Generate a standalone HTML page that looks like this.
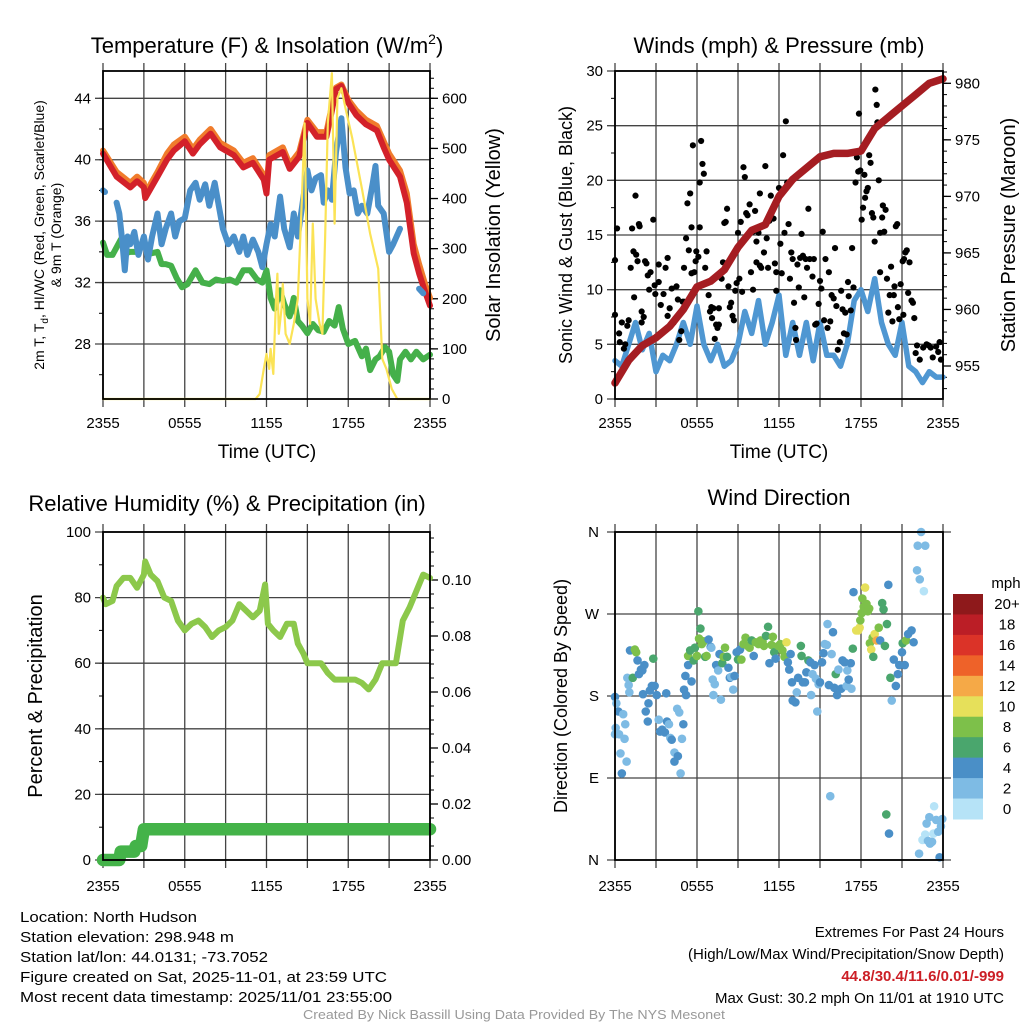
<!DOCTYPE html>
<html><head><meta charset="utf-8"><style>
html,body{margin:0;padding:0;background:#fff}
svg{display:block;font-family:"Liberation Sans",sans-serif}
</style></head><body>
<svg id="root" width="1024" height="1024" viewBox="0 0 1024 1024" xmlns="http://www.w3.org/2000/svg">
<rect x="0" y="0" width="1024" height="1024" fill="#fff"/>
<text x="267" y="53" font-size="22" text-anchor="middle">Temperature (F) &amp; Insolation (W/m<tspan dy="-9" font-size="14">2</tspan><tspan dy="9">)</tspan></text>
<text x="779" y="53" font-size="22" text-anchor="middle">Winds (mph) &amp; Pressure (mb)</text>
<text x="227" y="511" font-size="22" text-anchor="middle">Relative Humidity (%) &amp; Precipitation (in)</text>
<text x="779" y="505" font-size="22" text-anchor="middle">Wind Direction</text>
<text x="267" y="458" font-size="19" text-anchor="middle">Time (UTC)</text>
<text x="779" y="458" font-size="19" text-anchor="middle">Time (UTC)</text>
<text transform="translate(44,235) rotate(-90)" font-size="14" text-anchor="middle">2m T, T<tspan dy="4" font-size="10">d</tspan><tspan dy="-4">, HI/WC (Red, Green, Scarlet/Blue)</tspan></text>
<text transform="translate(61,235) rotate(-90)" font-size="14" text-anchor="middle">&amp; 9m T (Orange)</text>
<text transform="translate(500,235) rotate(-90)" font-size="20" text-anchor="middle">Solar Insolation (Yellow)</text>
<text transform="translate(572,235) rotate(-90)" font-size="18" text-anchor="middle">Sonic Wind &amp; Gust (Blue, Black)</text>
<text transform="translate(1015,235) rotate(-90)" font-size="20" text-anchor="middle">Station Pressure (Maroon)</text>
<text transform="translate(42,696) rotate(-90)" font-size="20" text-anchor="middle">Percent &amp; Precipitation</text>
<text transform="translate(567,696) rotate(-90)" font-size="18" text-anchor="middle">Direction (Colored By Speed)</text>
<g font-size="15">
<text x="20" y="922" textLength="177" lengthAdjust="spacingAndGlyphs">Location: North Hudson</text>
<text x="20" y="942" textLength="214" lengthAdjust="spacingAndGlyphs">Station elevation: 298.948 m</text>
<text x="20" y="962" textLength="248" lengthAdjust="spacingAndGlyphs">Station lat/lon: 44.0131; -73.7052</text>
<text x="20" y="982" textLength="367" lengthAdjust="spacingAndGlyphs">Figure created on Sat, 2025-11-01, at 23:59 UTC</text>
<text x="20" y="1002" textLength="372" lengthAdjust="spacingAndGlyphs">Most recent data timestamp: 2025/11/01 23:55:00</text>
</g>
<g font-size="15" text-anchor="end">
<text x="1004" y="937">Extremes For Past 24 Hours</text>
<text x="1004" y="959">(High/Low/Max Wind/Precipitation/Snow Depth)</text>
<text x="1004" y="981" fill="#cc1f26" font-weight="bold">44.8/30.4/11.6/0.01/-999</text>
<text x="1004" y="1003">Max Gust: 30.2 mph On 11/01 at 1910 UTC</text>
</g>
<text x="514" y="1019" font-size="12.5" fill="#999" text-anchor="middle" textLength="422" lengthAdjust="spacingAndGlyphs">Created By Nick Bassill Using Data Provided By The NYS Mesonet</text>
</svg>
<script>
// ---------- data ----------
const timeTickLabels = ["2355","0555","1155","1755","2355"];
const redT = [0,1,2,2.5,3,3.1,4,4.7,5.2,6,6.6,7.1,7.9,8.6,9.6,10.3,11,11.8,12,12.2,13.2,13.7,14.4,15,15.7,16.4,16.8,17.1,17.5,18,18.6,19.3,20.1,20.6,21,21.8,22.3,22.8,23.2,23.6,24];
const redV = [40.4,38.9,38.2,38.6,38.2,37.5,38.9,40,40.6,41.2,40.4,41,41.7,40.8,40.3,39.5,39.8,38.7,37.8,40,40.5,39.4,40.2,42.4,41.5,41.5,43.2,44.6,44.8,43.7,42.9,42.3,41.9,40.8,40,38.9,37.2,33.9,32.6,31.5,30.5];
const orangeV = [40.6,39.2,38.5,38.9,38.5,37.8,39.2,40.4,41,41.5,40.7,41.3,42,41.1,40.6,39.8,40.1,39,38.1,40.3,40.8,39.7,40.5,42.6,41.8,41.8,43.5,44.7,44.9,43.9,43.2,42.6,42.2,41.2,40.4,39.3,37.8,34.5,33.2,32,31];
const blueT = [0,0.15,0.5,1,1.2,1.4,1.6,1.8,2,2.3,2.6,3,3.3,3.6,4,4.3,4.6,5,5.3,5.6,6,6.4,6.8,7.1,7.5,7.8,8.2,8.5,8.8,9.2,9.6,10,10.3,10.6,11,11.4,11.7,12,12.3,12.6,13,13.3,13.7,14,14.3,14.7,15,15.3,15.6,16,16.2,16.5,16.8,17.1,17.5,17.8,18.1,18.4,18.7,19,19.4,19.8,20,20.2,20.6,21,21.3,21.8,22.5,23.2,23.5];
const blueV = [38,37.9,null,37.2,36.5,34.8,32.8,35,34.5,35.3,33.8,35,33.5,35,36.5,34.5,35.5,36.5,35,36,36.2,38,38.5,37.4,38.4,37,38.5,37,35.5,34.5,35,34,35,33.8,34.8,34,33,34.5,35.8,35,37.6,35.5,34.3,36.5,35,37.5,39.3,38,38.8,39,37.2,38,37.4,40.5,42.7,39.5,37.8,38,36.5,37,36.5,38.5,39.6,37,36.5,34,34.5,35.5,null,31.6,31.3];
const greenT = [0,0.3,0.7,1,1.3,1.6,2,2.5,3,3.5,4,4.3,4.6,5,5.4,5.8,6.2,6.8,7.3,7.8,8.3,8.8,9.3,9.8,10.3,10.8,11.3,11.7,12,12.3,12.6,13,13.3,13.7,14,14.3,14.6,15,15.4,15.8,16.2,16.6,17,17.3,17.6,18,18.5,19,19.3,19.6,20,20.3,20.7,21,21.3,21.6,21.8,22.2,22.6,23,23.5,24];
const greenV = [34.6,33.8,33.8,34.3,34.8,33.9,34,34,34.6,33.9,34,33.2,33.2,33.1,32.3,31.7,31.9,32.8,32,31.9,32.2,32.1,32.2,32,32.8,32.8,32.2,32,32.8,31,30.3,31.5,30.6,29.8,31,29.5,29.2,28.7,29.3,28.9,28.8,29.5,29.2,30.4,29,28,28.2,27.2,27.7,26.3,27,27.2,27.8,27.5,26,25.6,27,27.5,27,27.5,27,27.3];
const solarT = [0,11.2,11.5,11.8,12,12.2,12.3,12.5,12.7,12.8,12.9,13.1,13.2,13.4,13.7,14,14.3,14.6,14.8,15,15.2,15.4,15.6,15.9,16.1,16.3,16.5,16.8,17,17.2,17.5,17.8,18.3,19,19.6,20.2,20.5,20.8,21.2,21.6,24];
const solarV = [0,0,10,60,90,60,100,50,200,250,130,180,230,130,110,150,200,400,550,200,150,350,200,150,130,320,550,650,350,600,620,580,520,420,330,260,80,60,20,0,0];
const pressT = [0,1,2,3,4,5,6,7,8,9,10,11,12,13,14,15,16,17,18,18.5,19,20,21,22,23,24];
const pressV = [953.5,955.5,956.8,957.5,958.5,960,962,962.5,963.5,965.5,967,967.5,970,971.5,972.5,973.5,973.8,973.8,974,975,976,977,978,979,980,980.4];
const windT = [0,0.5,1,1.5,2,2.5,3,3.5,4,4.5,5,5.5,6,6.5,7,7.5,8,8.5,9,9.5,10,10.5,11,11.5,12,12.5,13,13.5,14,14.5,15,15.5,16,16.5,17,17.5,18,18.5,19,19.5,20,20.5,21,21.5,22,22.5,23,23.5,24];
const windV = [3.5,3,5,7,4.5,6,2.5,4,3.5,5,7,5,8.5,5,3.5,5,3,3.5,5,8,6,9,5,7,9.5,4,7,4,7,3.5,7,4,4,3,5,9,10,8,11,7,5,4,7,3,2.5,1.5,2.5,2,2];
const gustT = [0,0,0.15,0.3,0.35,0.5,0.65,0.75,0.9,1.0,1.15,1.25,1.35,1.4,1.5,1.55,1.65,1.75,1.8,1.95,1.95,2.1,2.2,2.3,2.4,2.5,2.6,2.8,2.9,2.95,3.2,3.2,3.35,3.55,3.7,3.85,3.85,4.0,4.15,4.3,4.5,4.6,4.7,4.85,4.95,5.05,5.05,5.2,5.3,5.4,5.5,5.6,5.6,5.7,5.8,5.9,5.95,6.1,6.2,6.2,6.3,6.4,6.5,6.6,6.7,6.85,6.95,7.05,7.1,7.2,7.3,7.4,7.5,7.6,7.6,7.8,7.9,8.0,8.1,8.2,8.3,8.4,8.5,8.6,8.7,8.8,8.9,9.0,9.1,9.2,9.3,9.4,9.5,9.6,9.7,9.85,9.95,10.1,10.1,10.25,10.35,10.35,10.5,10.6,10.6,10.7,10.9,11.0,11.1,11.2,11.3,11.4,11.5,11.6,11.7,11.8,11.8,12.0,12.1,12.2,12.3,12.4,12.5,12.6,12.7,12.8,12.9,13.0,13.1,13.2,13.25,13.35,13.45,13.55,13.65,13.75,13.85,13.95,14.05,14.15,14.25,14.45,14.55,14.65,14.75,14.9,15.0,15.1,15.2,15.3,15.4,15.55,15.65,15.75,15.85,16.0,16.1,16.2,16.3,16.45,16.55,16.65,16.75,16.85,16.95,17.05,17.1,17.25,17.35,17.45,17.6,17.7,17.8,17.85,17.95,18.05,18.15,18.25,18.3,18.4,18.5,18.6,18.7,18.8,18.9,19.0,19.05,19.15,19.2,19.3,19.4,19.4,19.55,19.6,19.7,19.8,19.9,20.0,20.1,20.2,20.3,20.4,20.45,20.55,20.65,20.7,20.8,20.9,21.05,21.1,21.15,21.25,21.35,21.45,21.55,21.7,21.8,21.9,22.0,22.1,22.3,22.55,22.8,22.95,23.1,23.25,23.5,23.65,23.75,23.85];
const gustV = [12.7,7.7,15.6,6,5.2,7,4.6,5,6.7,7.2,12,15.6,13.5,9.3,18.6,13.2,12.6,16,15.8,7,8,7.5,12.6,12.4,11.3,10,11.6,16.4,10.4,9.6,10.7,12.3,8.6,9.6,12,12.9,7.6,8.3,10.1,7,10.3,9.1,5.4,6.2,8.9,12,8.9,14.7,17.9,13.6,18.8,15.7,11.5,23.2,11.6,12.6,13.5,13,19.8,15.7,23.6,21.5,20.6,12,13.5,9.5,8,8.4,7.4,8.3,5.5,6.8,6.5,8.3,6.8,11,12.5,16.1,16.2,17.4,10.3,8.4,8.8,7.6,7.2,9.9,10.6,15.2,11,16.2,9.8,21.2,20.3,17,16.8,17.8,11.6,15.3,10,17.2,14.4,12.5,15.2,18.8,12.2,12,13.4,21.3,14.7,12,16.3,18.6,17.2,16.5,12.4,9.9,11.6,19.3,14.2,11.5,22.3,15.2,25.4,19.8,16,11,13.4,12.8,8.8,6.5,5.4,12.3,10.2,12.9,15.1,13.1,9.3,12.8,12,17.4,12.8,11.2,12.8,6.8,6.9,8.7,10.8,10.1,15.3,7.2,12.8,6.5,11.6,7.1,9.5,9.2,13.8,8.5,4.5,5.2,9.9,8.2,6,7.9,5.9,10.7,9.4,8.1,13.8,10.2,19.8,22.1,20.8,26.1,20.9,16.4,17.5,20.5,18.4,19,19.3,22.3,21.6,17,16.6,14.4,28.3,26.9,25.3,20,15.2,11.6,16.6,17.7,15.3,17.3,11,7.9,9.5,12.1,7.1,9.5,10.3,15.8,16,8.4,7.3,10.5,12.6,7.7,12.8,13.4,13.6,9.7,12.5,9,8.8,7.4,4.2,4.9,3.6,4.7,5,4.9,4.7,3.8,4.8,4.3,5.2,3.6];
const rhT = [0,0.2,0.7,1,1.5,2,2.5,3,3.1,3.5,4,4.5,5,5.5,6,6.5,7,7.5,8,8.5,9,9.5,10,10.5,11,11.5,11.9,12.1,12.5,13,13.5,14,14.3,14.7,15,15.5,16,16.5,17,17.5,18,18.5,19,19.5,20,20.5,21,21.5,22,22.5,23,23.5,24];
const rhV = [80,78,79,83.5,86,86,83,87,91,87,85,80,79,73,70,72,73,71,68,70,71,73,78,76,74,76,84,72,70,68,72,72,66,63,60,60,60,57,55,55,55,55,54,52,55,60,60,60,73,77,82,87,86];
const precipT = [0,1.2,1.3,2.3,2.4,2.8,2.9,3,24];
const precipV = [0,0,0.003,0.003,0.005,0.005,0.008,0.011,0.011];
const dirT = [0,0.1,0.25,0.05,0,0.3,0.6,0.75,0.7,0.4,0.85,0.5,0.9,1.0,1.05,1.1,1.3,1.45,1.55,1.65,1.75,1.9,2.0,2.15,2.05,2.25,2.4,2.45,2.55,2.7,2.8,2.9,3.05,3.2,3.3,3.45,3.65,3.75,3.8,3.95,4.05,4.15,4.35,4.35,4.55,4.7,4.6,4.8,4.9,5.0,5.05,5.15,5.2,5.35,5.35,5.5,5.6,5.75,5.85,6.0,6.1,6.25,6.15,6.35,6.5,6.6,6.7,6.85,7.0,7.05,7.15,7.2,7.3,7.4,7.55,7.65,7.75,7.85,7.95,8.05,8.2,8.3,8.4,8.5,8.65,8.75,8.9,9.0,9.15,9.25,9.4,9.55,9.7,9.85,10.0,10.15,10.3,10.5,10.65,10.8,10.9,11.05,11.2,11.3,11.45,11.55,11.65,11.75,11.95,12.1,12.25,12.4,12.55,12.65,12.75,12.85,12.95,13.0,13.2,13.3,13.4,13.6,13.65,13.75,13.9,14.0,14.15,14.3,14.35,14.45,14.6,14.7,14.8,14.9,15.0,15.15,15.25,15.35,15.5,15.55,15.65,15.75,15.85,15.95,16.05,16.15,16.25,16.35,16.55,16.65,16.8,16.95,17.0,17.1,17.25,17.3,17.4,17.45,17.65,17.8,17.9,17.95,18.05,18.1,18.2,18.3,18.4,18.5,18.6,18.65,18.75,18.85,18.9,19.0,19.15,19.3,19.4,19.55,19.65,19.75,19.85,19.9,20.0,20.05,20.15,20.25,20.4,20.55,20.7,20.8,21.0,21.05,21.2,21.3,21.45,21.7,21.85,22.1,22.15,22.25,22.3,22.4,22.5,22.6,22.7,22.7,22.8,22.9,23.0,23.05,23.2,23.35,23.3,23.5,23.65,23.75,23.85,23.95];
const dirV = [179,172,163,145,138,138,160,149,133,117,108,95,200,192,184,230,200,231,228,219,204,209,208,214,182,163,152,172,186,191,221,191,181,154,141,143,140,183,152,149,134,132,118,108,166,162,114,95,133,149,187,202,181,214,224,230,196,219,233,224,273,254,243,237,240,223,224,242,234,233,198,181,193,214,208,226,176,216,223,233,223,211,200,201,187,202,228,220,231,220,237,244,235,233,241,224,239,237,241,240,235,246,256,216,236,245,228,221,235,237,230,223,239,217,209,226,195,175,173,184,200,235,224,195,195,206,219,217,181,204,214,199,163,193,195,217,227,237,236,259,192,70,226,250,189,204,181,209,188,219,217,191,208,198,216,188,232,294,252,252,255,263,271,287,278,299,281,273,276,238,231,244,223,248,241,255,241,282,275,235,50,259,302,29,200,175,220,191,204,214,228,238,214,241,248,252,239,318,345,7,308,360,22,295,345,28,40,21,47,18,20,59,29,44,31,3,37,45];
const dirSpeed = [5,3,5,3,3,3,3,3,3,3,3,5,3,3,3,5,7,9,9,5,5,5,5,5,5,5,5,5,5,5,7,5,5,3,5,5,5,5,5,3,3,5,3,5,3,3,5,3,3,5,5,5,5,5,9,7,5,7,7,9,7,7,9,9,9,7,9,5,5,3,3,3,3,5,3,5,3,7,9,9,7,5,5,3,3,5,5,7,5,9,9,9,9,9,7,5,9,9,9,9,9,7,7,5,9,9,7,5,9,9,9,9,11,5,5,5,5,5,5,3,5,7,7,5,5,5,7,5,3,3,5,3,3,3,5,5,5,3,3,3,5,3,3,5,5,7,5,3,5,5,5,3,3,5,5,3,7,5,11,11,11,9,9,9,9,11,9,9,9,9,11,9,7,11,13,9,5,7,7,7,7,7,5,5,7,3,5,5,5,5,5,7,5,9,5,5,5,3,3,3,3,3,1,1,3,1,3,3,3,3,3,1,1,3,3,5,3,3];
const dirTickLabels = ["N","E","S","W","N"];
const speedBinLabels = ["0","2","4","6","8","10","12","14","16","18","20+"];
const speedBinColors = ["#b6e3f7","#7ebbe4","#4a8fc7","#4aa66d","#7dc04a","#e6e05a","#f5a947","#ee6229","#db3328","#bb1e26","#8e191b"];

// ---------- helpers ----------
const NS = "http://www.w3.org/2000/svg";
const root = document.getElementById("root");
function mk(tag, a, parent) {
  const e = document.createElementNS(NS, tag);
  for (const k in a) e.setAttribute(k, a[k]);
  (parent || root).appendChild(e);
  return e;
}
function panel(x0, x1, y0, y1) { return {x0, x1, y0, y1}; }
function lin(d0, d1, r0, r1) { return v => r0 + (v - d0) / (d1 - d0) * (r1 - r0); }
function pathFrom(T, V, xs, ys) {
  let d = "", pen = false;
  for (let i = 0; i < T.length; i++) {
    if (V[i] === null) { pen = false; continue; }
    d += (pen ? "L" : "M") + xs(T[i]).toFixed(1) + "," + ys(V[i]).toFixed(1);
    pen = true;
  }
  return d;
}
const gridColor = "#444";

function timeAxis(p, xs, labelY, name) {
  const g = mk("g", {});
  
  
  for (let h = 0; h <= 24; h += 3) {
    const l = mk("line", {x1: xs(h), x2: xs(h), y1: p.y0 - 8, y2: p.y1 + 8, stroke: gridColor, "stroke-width": 1.3}, g);
    
    
  }
  for (let i = 0; i < timeTickLabels.length; i++) {
    const t = mk("text", {x: xs(i * 6), y: labelY, "font-size": 15, "text-anchor": "middle"}, g);
    t.textContent = timeTickLabels[i];
    
    
  }
}
function leftAxis(p, ys, ticks, minors, fmt, name) {
  const g = mk("g", {});
  
  
  minors.forEach(v => {
    const l = mk("line", {x1: p.x0 - 4, x2: p.x0, y1: ys(v), y2: ys(v), stroke: "#000", "stroke-width": 1}, g);
    
    
  });
  ticks.forEach(v => {
    const l = mk("line", {x1: p.x0 - 8, x2: p.x1, y1: ys(v), y2: ys(v), stroke: gridColor, "stroke-width": 1.3}, g);
    
    
    const t = mk("text", {x: p.x0 - 12, y: ys(v) + 5, "font-size": 15, "text-anchor": "end"}, g);
    t.textContent = fmt(v);
    
    
  });
}
function rightAxis(p, ys, ticks, minors, fmt, name) {
  const g = mk("g", {});
  
  
  minors.forEach(v => {
    const l = mk("line", {x1: p.x1, x2: p.x1 + 4, y1: ys(v), y2: ys(v), stroke: "#000", "stroke-width": 1}, g);
    
    
  });
  ticks.forEach(v => {
    const l = mk("line", {x1: p.x1, x2: p.x1 + 8, y1: ys(v), y2: ys(v), stroke: "#000", "stroke-width": 1.3}, g);
    
    
    const t = mk("text", {x: p.x1 + 12, y: ys(v) + 5, "font-size": 15, "text-anchor": "start"}, g);
    t.textContent = fmt(v);
    
    
  });
}
function frame(p, name) {
  const r = mk("rect", {x: p.x0, y: p.y0, width: p.x1 - p.x0, height: p.y1 - p.y0, fill: "none", stroke: "#000", "stroke-width": 1.8});
  
  
}
function range(a, b, s) { const o = []; for (let v = a; v <= b + 1e-9; v += s) o.push(+v.toFixed(4)); return o; }
function line(T, V, xs, ys, color, w, name) {
  const e = mk("path", {d: pathFrom(T, V, xs, ys), fill: "none", stroke: color, "stroke-width": w, "stroke-linejoin": "round", "stroke-linecap": "round"});
  
  
  return e;
}

// ---------- panel 1: temperature ----------
const P1 = panel(103, 430, 71, 399);
const x1s = lin(0, 24, P1.x0, P1.x1);
const y1s = lin(28, 44, 344, 98.3);
const y1r = lin(0, 600, 399, 98.3);
timeAxis(P1, x1s, 428, "temperature");
leftAxis(P1, y1s, range(28, 44, 4), range(26, 44, 2), v => String(v), "temperature");
rightAxis(P1, y1r, range(0, 600, 100), range(0, 640, 20), v => String(v), "insolation");
line(redT, orangeV, x1s, y1s, "#f07c2c", 6, "9m-temperature-line");
line(redT, redV, x1s, y1s, "#d3212a", 6, "2m-temperature-line");
line(greenT, greenV, x1s, y1s, "#45b04a", 6, "dewpoint-line");
line(blueT, blueV, x1s, y1s, "#4a8fc9", 6, "wind-chill-line");
line(solarT, solarV, x1s, y1r, "#fbe356", 2.2, "solar-insolation-line");
frame(P1, "temperature");

// ---------- panel 2: winds ----------
const P2 = panel(615, 943, 71, 399);
const x2s = lin(0, 24, P2.x0, P2.x1);
const y2s = lin(0, 30, 399, 71);
const y2r = lin(955, 980, 366, 83.3);
timeAxis(P2, x2s, 428, "winds");
leftAxis(P2, y2s, range(0, 30, 5), range(0, 30, 2.5), v => String(v), "wind");
rightAxis(P2, y2r, range(955, 980, 5), range(953, 981, 1), v => String(v), "pressure");
line(windT, windV, x2s, y2s, "#4f97d2", 5.5, "sonic-wind-line");
for (let i = 0; i < gustT.length; i++) {
  const c = mk("circle", {cx: x2s(gustT[i]), cy: y2s(gustV[i]), r: 3.1, fill: "#000"});
  
  
}
line(pressT, pressV, x2s, y2r, "#a51d22", 7.5, "station-pressure-line");
frame(P2, "winds");

// ---------- panel 3: humidity ----------
const P3 = panel(103, 430, 532, 860);
const x3s = lin(0, 24, P3.x0, P3.x1);
const y3s = lin(0, 100, 860, 532);
const y3r = lin(0, 0.1, 860, 580);
timeAxis(P3, x3s, 891, "humidity");
leftAxis(P3, y3s, range(0, 100, 20), range(0, 100, 10), v => String(v), "humidity");
rightAxis(P3, y3r, range(0, 0.1, 0.02), range(0, 0.115, 0.005), v => v.toFixed(2), "precipitation");
line(rhT, rhV, x3s, y3s, "#8cc84b", 6, "relative-humidity-line");
line(precipT, precipV, x3s, y3r, "#44b349", 12.5, "precipitation-line");
frame(P3, "humidity");

// ---------- panel 4: wind direction ----------
const P4 = panel(615, 943, 532, 860);
const x4s = lin(0, 24, P4.x0, P4.x1);
const y4s = lin(0, 360, 860, 532);
timeAxis(P4, x4s, 891, "direction");
{
  const g = mk("g", {});
  
  
  for (let i = 0; i < dirTickLabels.length; i++) {
    const v = i * 90;
    const l = mk("line", {x1: P4.x0 - 8, x2: P4.x1 + 8, y1: y4s(v), y2: y4s(v), stroke: gridColor, "stroke-width": 1.3}, g);
    
    
    const t = mk("text", {x: P4.x0 - 16, y: y4s(v) + 5, "font-size": 15, "text-anchor": "end"}, g);
    t.textContent = dirTickLabels[i];
    
    
  }
}
for (let i = 0; i < dirT.length; i++) {
  const bin = Math.min(10, Math.floor(dirSpeed[i] / 2));
  const c = mk("circle", {cx: x4s(dirT[i]), cy: y4s(dirV[i]), r: 4.3, fill: speedBinColors[bin]});
  
  
}
// colorbar
{
  const g = mk("g", {});
  
  
  const top = 594, bot = 819, n = speedBinColors.length, h = (bot - top) / n;
  const u = mk("text", {x: 1006, y: 588, "font-size": 15, "text-anchor": "middle"}, g);
  u.textContent = "mph";
  
  
  for (let i = 0; i < n; i++) {
    const k = n - 1 - i;
    const r = mk("rect", {x: 953, y: top + i * h, width: 30, height: h + 0.5, fill: speedBinColors[k]}, g);
    
    
    const t = mk("text", {x: 1007, y: top + i * h + h / 2 + 5, "font-size": 15, "text-anchor": "middle"}, g);
    t.textContent = speedBinLabels[k];
    
    
  }
}
frame(P4, "direction");
</script>
</body></html>
